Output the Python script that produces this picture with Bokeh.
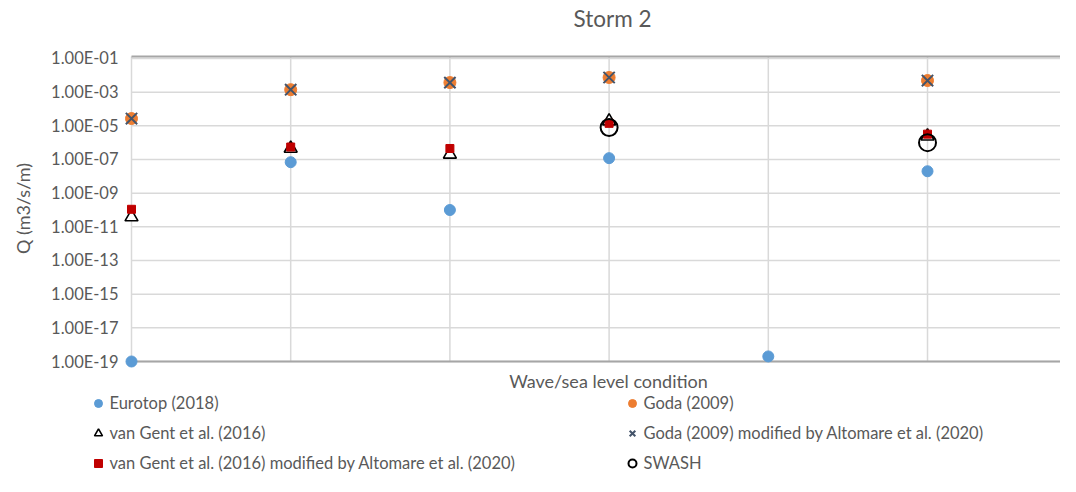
import math
from bokeh.plotting import figure
from bokeh.models import ColumnDataSource, Legend, LegendItem, Range1d, Label
from bokeh.core.properties import value
from bokeh.embed import file_html
from bokeh.resources import INLINE

nan = float("nan")

# ---- data ----
conditions = [1, 2, 3, 4, 5, 6]
eurotop = [1e-19, 6.9e-8, 1.0e-10, 1.2e-7, 2.0e-19, 2.0e-8]
goda = [2.7e-5, 1.4e-3, 3.7e-3, 7.4e-3, nan, 4.9e-3]
goda_mod = [2.7e-5, 1.4e-3, 3.7e-3, 7.4e-3, nan, 4.9e-3]
van_gent = [3.8e-11, 4.5e-7, 2.0e-7, 1.9e-5, nan, 2.4e-6]
van_gent_mod = [1.1e-10, 5.5e-7, 4.5e-7, 1.4e-5, nan, 3.2e-6]
swash = [nan, nan, nan, 7.9e-6, nan, 1.0e-6]

y_tick_exponents = [-19, -17, -15, -13, -11, -9, -7, -5, -3, -1]
y_tick_labels = ["1.00E-19", "1.00E-17", "1.00E-15", "1.00E-13", "1.00E-11",
                 "1.00E-09", "1.00E-07", "1.00E-05", "1.00E-03", "1.00E-01"]

title_text = "Storm 2"
x_title = "Wave/sea level condition"
y_title = "Q (m3/s/m)"
series_names = ["Eurotop (2018)", "Goda (2009)", "van Gent et al. (2016)",
                "Goda (2009) modified by Altomare et al. (2020)",
                "van Gent et al. (2016) modified by Altomare et al. (2020)", "SWASH"]

# ---- layout / style ----
FONT = "Lato"
TXT = "#595959"
GRID = "#D9D9D9"
AXIS = "#A6A6A6"
W, H = 1060, 476
X_START, X_END = 0.17713, 6.8354          # plot-area category axis extent
Y_BOTTOM, Y_TOP = 10 ** -25.831, 10 ** 2.4437
Y_PLOT_TOP = 1.31e-1                       # top edge of the plot area

p = figure(width=W, height=H, y_axis_type="log",
           x_range=Range1d(X_START, X_END), y_range=Range1d(Y_BOTTOM, Y_TOP),
           output_backend="svg", toolbar_location=None, min_border=0)
p.outline_line_color = None
p.axis.visible = False
p.grid.visible = False

tick_vals = [10.0 ** e for e in y_tick_exponents]
x_left = conditions[0]

# horizontal grid lines (at the y ticks) and vertical grid lines (at the categories)
hgrid = ColumnDataSource(dict(x0=[x_left] * len(tick_vals), x1=[X_END] * len(tick_vals),
                              y=tick_vals, lab=y_tick_labels))
p.segment(x0="x0", y0="y", x1="x1", y1="y", source=hgrid, line_color=GRID, line_width=1.5)
p.segment(x0=conditions, y0=[tick_vals[0]] * len(conditions), x1=conditions,
          y1=[Y_PLOT_TOP] * len(conditions), line_color=GRID, line_width=1.5)
# plot-area border lines: category axis (bottom) and top edge
p.segment(x0=[x_left, x_left], y0=[tick_vals[0], Y_PLOT_TOP], x1=[X_END, X_END],
          y1=[tick_vals[0], Y_PLOT_TOP], line_color=AXIS, line_width=2)

# y tick labels
p.text(x="x0", y="y", text="lab", source=hgrid, x_offset=-13, text_align="right",
       text_baseline="middle", text_font=value(FONT), text_font_size="16.5px", text_color=TXT)

# titles
p.add_layout(Label(x=612, y=H - 18, x_units="screen", y_units="screen", text=title_text,
                   text_align="center", text_baseline="middle", text_font=FONT,
                   text_font_size="22.5px", text_color=TXT))
p.add_layout(Label(x=608, y=H - 380, x_units="screen", y_units="screen", text=x_title,
                   text_align="center", text_baseline="middle", text_font=FONT,
                   text_font_size="18px", text_color=TXT))
p.add_layout(Label(x=22, y=H - 208, x_units="screen", y_units="screen", text=y_title,
                   angle=math.pi / 2, text_align="center", text_baseline="middle",
                   text_font=FONT, text_font_size="18px", text_color=TXT))

# ---- series ----
src = ColumnDataSource(dict(x=conditions, eurotop=eurotop, goda=goda, goda_mod=goda_mod,
                            van_gent=van_gent, van_gent_mod=van_gent_mod, swash=swash))
styles = [
    dict(marker="circle", size=11, fill_color="#5B9BD5", line_color="#5B9BD5"),
    dict(marker="circle", size=12, fill_color="#ED7D31", line_color="#ED7D31"),
    dict(marker="triangle", size=13, fill_color="white", line_color="black", line_width=1.6),
    dict(marker="x", size=16, line_color="#44546A", line_width=2),
    dict(marker="square", size=8, fill_color="#C00000", line_color="#C00000"),
    dict(marker="circle", size=17, fill_color=None, line_color="black", line_width=2),
]
columns = ["eurotop", "goda", "van_gent", "goda_mod", "van_gent_mod", "swash"]
renderers = [p.scatter("x", col, source=src, **st) for col, st in zip(columns, styles)]

# ---- legend (two columns, below the plot area) ----
items = [LegendItem(label=n, renderers=[r]) for n, r in zip(series_names, renderers)]
legend = Legend(items=items, orientation="horizontal", ncols=2,
                location=(85.5, 3), glyph_width=24, glyph_height=20,
                label_standoff=0, label_width=500, label_height=20, spacing=10,
                padding=0, margin=0, border_line_color=None, background_fill_alpha=0,
                label_text_font=FONT, label_text_font_size="16.5px", label_text_color=TXT)
p.add_layout(legend, "center")

open("out.html", "w").write(file_html(p, INLINE))
